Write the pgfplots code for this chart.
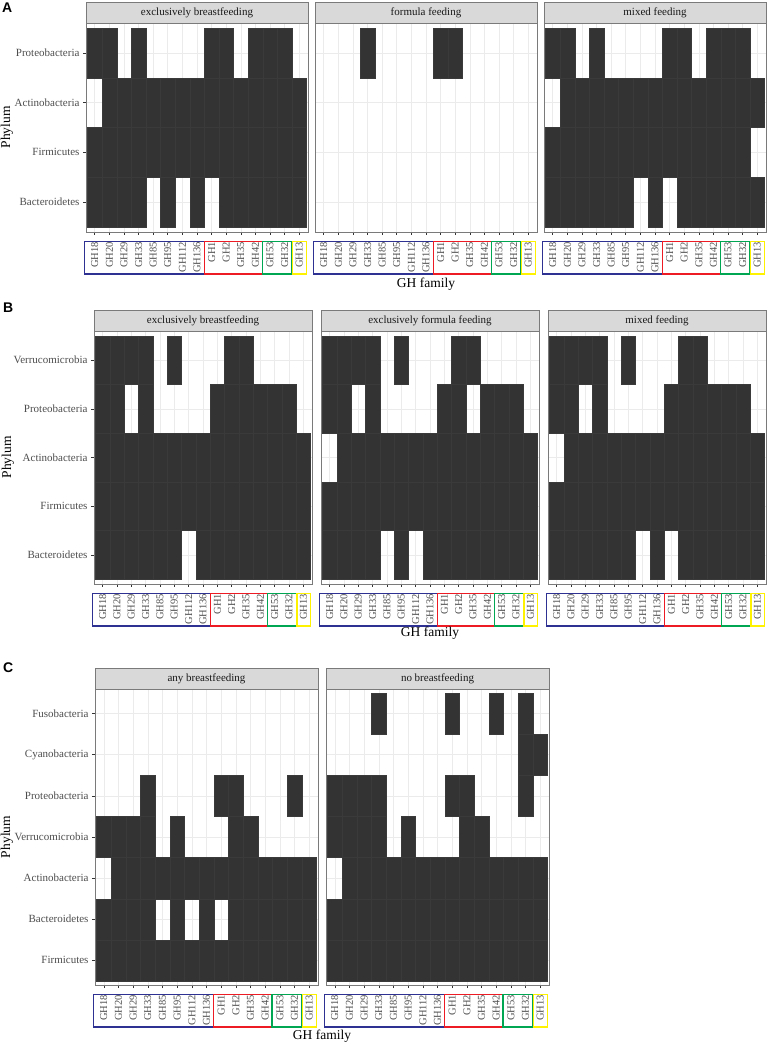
\documentclass[border=0pt]{standalone}
\usepackage{pgfplots}
\pgfplotsset{compat=1.18}
\usepackage{fontspec}
\setmainfont{Liberation Serif}
\newfontfamily\headfont{Liberation Sans}
\definecolor{tilec}{HTML}{333333}
\definecolor{tiled}{HTML}{3A3A3A}
\definecolor{gridc}{HTML}{EBEBEB}
\definecolor{bordc}{HTML}{7A7A7A}
\definecolor{tickc}{HTML}{333333}
\definecolor{labc}{HTML}{4D4D4D}
\definecolor{stripc}{HTML}{D9D9D9}
\definecolor{gblue}{RGB}{46,49,146}
\definecolor{gred}{RGB}{237,28,36}
\definecolor{ggreen}{RGB}{0,166,81}
\definecolor{gyellow}{RGB}{255,242,0}

\pgfdeclareplotmark{tileA}{\pgfpathrectangle{\pgfpoint{-7.30pt}{-24.88pt}}{\pgfpoint{14.60pt}{49.76pt}}\pgfusepathqfillstroke}
\pgfdeclareplotmark{tileB}{\pgfpathrectangle{\pgfpoint{-7.17pt}{-24.33pt}}{\pgfpoint{14.34pt}{48.65pt}}\pgfusepathqfillstroke}
\pgfdeclareplotmark{tileC}{\pgfpathrectangle{\pgfpoint{-7.34pt}{-20.56pt}}{\pgfpoint{14.67pt}{41.11pt}}\pgfusepathqfillstroke}

\pgfplotsset{
  every axis title/.style={at={(0.5,1)}, anchor=south, draw=bordc, fill=stripc,
     line width=0.7pt, inner sep=0pt, outer sep=0pt, minimum height=21pt,
     text=black!90, font=\fontsize{11}{13}\selectfont},
  panel/.style={
    scale only axis, clip=false,
    xmin=0.4, xmax=15.6,
    xtick={1,...,15},
    xticklabels={GH18,GH20,GH29,GH33,GH85,GH95,GH112,GH136,GH1,GH2,GH35,GH42,GH53,GH32,GH13},
    xticklabel style={rotate=90, anchor=east, font=\fontsize{10.5}{12}\selectfont, text=labc},
    xticklabel shift=3.5pt,
    yticklabel style={font=\fontsize{11}{13}\selectfont, text=labc},
    grid=major, major grid style={gridc, line width=0.6pt},
    axis line style={bordc, line width=0.7pt},
    tick align=outside, major tick length=3pt,
    major tick style={tickc, line width=0.6pt},
    tick pos=left,
  },
  noy/.style={yticklabels={}, ytick style={draw=none}},
  tiles/.style={only marks, mark=#1, mark options={fill=tilec, draw=tiled, line width=0.3pt}},
}
\newcommand{\ghboxes}{%
  \draw[gblue, line width=1.2pt] ([yshift=-9.5pt]axis cs:0.3,0.4) rectangle ([yshift=-42pt]axis cs:8.5,0.4);
  \draw[gred, line width=1.2pt] ([yshift=-9.5pt]axis cs:8.5,0.4) rectangle ([yshift=-42pt]axis cs:12.47,0.4);
  \draw[ggreen, line width=1.2pt] ([yshift=-9.5pt]axis cs:12.47,0.4) rectangle ([yshift=-42pt]axis cs:14.5,0.4);
  \draw[gyellow, line width=1.2pt] ([yshift=-9.5pt]axis cs:14.55,0.4) rectangle ([yshift=-42pt]axis cs:15.52,0.4);
}

\begin{document}
\begin{tikzpicture}
\useasboundingbox (0pt,0pt) rectangle (770pt,1046pt);

% ---------------- Panel A ----------------
\pgfplotsset{pA/.style={panel, width=222pt, height=209pt, ymin=0.4, ymax=4.6,
  ytick={1,...,4}, yticklabels={Bacteroidetes,Firmicutes,Actinobacteria,Proteobacteria},
  every axis title/.append style={minimum width=222pt}}}
\begin{axis}[pA, at={(86pt,814pt)}, anchor=south west, title={exclusively breastfeeding}]
\addplot[tiles=tileA] coordinates {
 (1,4)(2,4)(4,4)(9,4)(10,4)(12,4)(13,4)(14,4)
 (2,3)(3,3)(4,3)(5,3)(6,3)(7,3)(8,3)(9,3)(10,3)(11,3)(12,3)(13,3)(14,3)(15,3)
 (1,2)(2,2)(3,2)(4,2)(5,2)(6,2)(7,2)(8,2)(9,2)(10,2)(11,2)(12,2)(13,2)(14,2)(15,2)
 (1,1)(2,1)(3,1)(4,1)(6,1)(8,1)(10,1)(11,1)(12,1)(13,1)(14,1)(15,1)};
\ghboxes
\end{axis}
\begin{axis}[pA, noy, at={(315pt,814pt)}, anchor=south west, title={formula feeding}]
\addplot[tiles=tileA] coordinates {(4,4)(9,4)(10,4)};
\ghboxes
\end{axis}
\begin{axis}[pA, noy, at={(544pt,814pt)}, anchor=south west, title={mixed feeding}]
\addplot[tiles=tileA] coordinates {
 (1,4)(2,4)(4,4)(9,4)(10,4)(12,4)(13,4)(14,4)
 (2,3)(3,3)(4,3)(5,3)(6,3)(7,3)(8,3)(9,3)(10,3)(11,3)(12,3)(13,3)(14,3)(15,3)
 (1,2)(2,2)(3,2)(4,2)(5,2)(6,2)(7,2)(8,2)(9,2)(10,2)(11,2)(12,2)(13,2)(14,2)
 (1,1)(2,1)(3,1)(4,1)(5,1)(6,1)(8,1)(10,1)(11,1)(12,1)(13,1)(14,1)(15,1)};
\ghboxes
\end{axis}

% ---------------- Panel B ----------------
\pgfplotsset{pB/.style={panel, width=218pt, height=253pt, ymin=0.4, ymax=5.6,
  ytick={1,...,5}, yticklabels={Bacteroidetes,Firmicutes,Actinobacteria,Proteobacteria,Verrucomicrobia},
  every axis title/.append style={minimum width=218pt}}}
\begin{axis}[pB, at={(94pt,462pt)}, anchor=south west, title={exclusively breastfeeding}]
\addplot[tiles=tileB] coordinates {
 (1,5)(2,5)(3,5)(4,5)(6,5)(10,5)(11,5)
 (1,4)(2,4)(4,4)(9,4)(10,4)(11,4)(12,4)(13,4)(14,4)
 (1,3)(2,3)(3,3)(4,3)(5,3)(6,3)(7,3)(8,3)(9,3)(10,3)(11,3)(12,3)(13,3)(14,3)(15,3)
 (1,2)(2,2)(3,2)(4,2)(5,2)(6,2)(7,2)(8,2)(9,2)(10,2)(11,2)(12,2)(13,2)(14,2)(15,2)
 (1,1)(2,1)(3,1)(4,1)(5,1)(6,1)(8,1)(9,1)(10,1)(11,1)(12,1)(13,1)(14,1)(15,1)};
\ghboxes
\end{axis}
\begin{axis}[pB, noy, at={(321pt,462pt)}, anchor=south west, title={exclusively formula feeding}]
\addplot[tiles=tileB] coordinates {
 (1,5)(2,5)(3,5)(4,5)(6,5)(10,5)(11,5)
 (1,4)(2,4)(4,4)(9,4)(10,4)(12,4)(13,4)(14,4)
 (2,3)(3,3)(4,3)(5,3)(6,3)(7,3)(8,3)(9,3)(10,3)(11,3)(12,3)(13,3)(14,3)(15,3)
 (1,2)(2,2)(3,2)(4,2)(5,2)(6,2)(7,2)(8,2)(9,2)(10,2)(11,2)(12,2)(13,2)(14,2)(15,2)
 (1,1)(2,1)(3,1)(4,1)(6,1)(8,1)(9,1)(10,1)(11,1)(12,1)(13,1)(14,1)(15,1)};
\ghboxes
\end{axis}
\begin{axis}[pB, noy, at={(548pt,462pt)}, anchor=south west, title={mixed feeding}]
\addplot[tiles=tileB] coordinates {
 (1,5)(2,5)(3,5)(4,5)(6,5)(10,5)(11,5)
 (1,4)(2,4)(4,4)(9,4)(10,4)(11,4)(12,4)(13,4)(14,4)
 (2,3)(3,3)(4,3)(5,3)(6,3)(7,3)(8,3)(9,3)(10,3)(11,3)(12,3)(13,3)(14,3)(15,3)
 (1,2)(2,2)(3,2)(4,2)(5,2)(6,2)(7,2)(8,2)(9,2)(10,2)(11,2)(12,2)(13,2)(14,2)(15,2)
 (1,1)(2,1)(3,1)(4,1)(5,1)(6,1)(8,1)(10,1)(11,1)(12,1)(13,1)(14,1)(15,1)};
\ghboxes
\end{axis}

% ---------------- Panel C ----------------
\pgfplotsset{pC/.style={panel, width=223pt, height=296pt, ymin=0.4, ymax=7.6,
  ytick={1,...,7}, yticklabels={Firmicutes,Bacteroidetes,Actinobacteria,Verrucomicrobia,Proteobacteria,Cyanobacteria,Fusobacteria},
  every axis title/.append style={minimum width=223pt}}}
\begin{axis}[pC, at={(95pt,61pt)}, anchor=south west, title={any breastfeeding}]
\addplot[tiles=tileC] coordinates {
 (4,5)(9,5)(10,5)(14,5)
 (1,4)(2,4)(3,4)(4,4)(6,4)(10,4)(11,4)
 (2,3)(3,3)(4,3)(5,3)(6,3)(7,3)(8,3)(9,3)(10,3)(11,3)(12,3)(13,3)(14,3)(15,3)
 (1,2)(2,2)(3,2)(4,2)(6,2)(8,2)(10,2)(11,2)(12,2)(13,2)(14,2)(15,2)
 (1,1)(2,1)(3,1)(4,1)(5,1)(6,1)(7,1)(8,1)(9,1)(10,1)(11,1)(12,1)(13,1)(14,1)(15,1)};
\ghboxes
\end{axis}
\begin{axis}[pC, noy, at={(326pt,61pt)}, anchor=south west, title={no breastfeeding}]
\addplot[tiles=tileC] coordinates {
 (4,7)(9,7)(12,7)(14,7)
 (14,6)(15,6)
 (1,5)(2,5)(3,5)(4,5)(9,5)(10,5)(14,5)
 (1,4)(2,4)(3,4)(4,4)(6,4)(10,4)(11,4)
 (2,3)(3,3)(4,3)(5,3)(6,3)(7,3)(8,3)(9,3)(10,3)(11,3)(12,3)(13,3)(14,3)(15,3)
 (1,2)(2,2)(3,2)(4,2)(5,2)(6,2)(7,2)(8,2)(9,2)(10,2)(11,2)(12,2)(13,2)(14,2)(15,2)
 (1,1)(2,1)(3,1)(4,1)(5,1)(6,1)(7,1)(8,1)(9,1)(10,1)(11,1)(12,1)(13,1)(14,1)(15,1)};
\ghboxes
\end{axis}

% ---------------- labels ----------------
\node[anchor=north west, inner sep=0pt, font=\headfont\bfseries\fontsize{14}{16}\selectfont] at (2pt,1043pt) {A};
\node[anchor=north west, inner sep=0pt, font=\headfont\bfseries\fontsize{14}{16}\selectfont] at (3pt,743pt) {B};
\node[anchor=north west, inner sep=0pt, font=\headfont\bfseries\fontsize{14}{16}\selectfont] at (3pt,383pt) {C};
\node[rotate=90, font=\fontsize{13.5}{15}\selectfont] at (7pt,918.5pt) {Phylum};
\node[rotate=90, font=\fontsize{13.5}{15}\selectfont] at (8pt,588.5pt) {Phylum};
\node[rotate=90, font=\fontsize{13.5}{15}\selectfont] at (7pt,209pt) {Phylum};
\node[font=\fontsize{13.5}{15}\selectfont] at (426pt,762pt) {GH family};
\node[font=\fontsize{13.5}{15}\selectfont] at (430pt,413pt) {GH family};
\node[font=\fontsize{13.5}{15}\selectfont] at (322pt,10pt) {GH family};
\end{tikzpicture}
\end{document}
